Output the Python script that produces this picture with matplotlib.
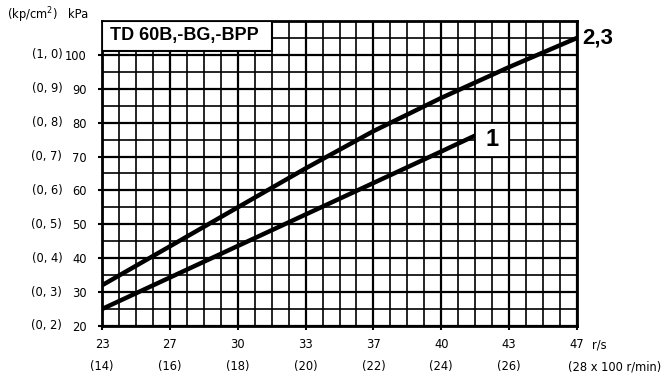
import matplotlib
matplotlib.use("Agg")
import matplotlib.pyplot as plt
from matplotlib.ticker import MultipleLocator
from matplotlib.patches import Rectangle
import matplotlib.transforms as mtransforms

# ---- data ----
rpm_ticks = [14, 16, 18, 20, 22, 24, 26, 28]          # x 100 r/min
rps_labels = ["23", "27", "30", "33", "37", "40", "43", "47"]
rpm_labels = ["(14)", "(16)", "(18)", "(20)", "(22)", "(24)", "(26)", "(28 x 100 r/min)"]
kpa_ticks = [20, 30, 40, 50, 60, 70, 80, 90, 100]
kpcm_labels = ["(0, 2)", "(0, 3)", "(0, 4)", "(0, 5)", "(0, 6)", "(0, 7)", "(0, 8)",
               "(0, 9)", "(1, 0)"]

curve23_x = [14, 16, 18, 20, 22, 24, 26, 28]
curve23_y = [32, 43.5, 55, 66.5, 77.5, 87.3, 96.4, 105]
curve1_x = [14, 16, 18, 20, 22, 24, 25]
curve1_y = [25, 34.3, 43.6, 52.9, 62.2, 71.5, 76.2]

title = "TD 60B,-BG,-BPP"

FS = 8.3
FAM = "DejaVu Sans"

# ---- figure ----
fig = plt.figure(figsize=(6.68, 3.76), dpi=100)
ax = fig.add_axes([0.1527, 0.1330, 0.7111, 0.8112])
ax.set_xlim(14, 28)
ax.set_ylim(20, 110)

ax.xaxis.set_minor_locator(MultipleLocator(0.5))
ax.yaxis.set_minor_locator(MultipleLocator(5))
ax.set_yticks(kpa_ticks)
ax.set_xticks(rpm_ticks)
ax.set_xticklabels([])
ax.set_yticklabels([str(v) for v in kpa_ticks], fontsize=FS, family=FAM)

ax.grid(which="major", color="black", lw=1.6, zorder=1)
ax.grid(which="minor", color="black", lw=1.2, zorder=1)
ax.set_axisbelow(True)
ax.tick_params(which="major", direction="out", length=3, width=1.5, pad=8)
ax.tick_params(which="minor", length=0)
for s in ax.spines.values():
    s.set_linewidth(2)

# curves
ax.plot(curve23_x, curve23_y, color="black", lw=3.2, solid_capstyle="butt",
        solid_joinstyle="round", zorder=4)
ax.plot(curve1_x, curve1_y, color="black", lw=3.2, solid_capstyle="butt",
        solid_joinstyle="round", zorder=4)

# title box
ax.add_patch(Rectangle((14, 101), 5, 9, facecolor="white", edgecolor="black",
                       lw=1.5, zorder=5))
ax.text(14.25, 105.6, title, ha="left", va="center", fontsize=13,
        fontweight="bold", family="Liberation Sans", zorder=6)

# label boxes
ax.add_patch(Rectangle((25, 70), 1, 10, facecolor="white", edgecolor="black",
                       lw=1.3, zorder=5))
ax.text(25.5, 75, "1", ha="center", va="center", fontsize=17,
        fontweight="bold", family="Liberation Sans", zorder=6)
ax.text(28.15, 105, "2,3", ha="left", va="center", fontsize=16,
        fontweight="bold", family="Liberation Sans", clip_on=False)

# secondary y labels (kp/cm2)
ty = mtransforms.blended_transform_factory(ax.transAxes, ax.transData)
for v, lab in zip(kpa_ticks, kpcm_labels):
    ax.text(-0.116, v, lab, ha="center", va="center", fontsize=FS,
            family=FAM, transform=ty)

# x labels
tx = mtransforms.blended_transform_factory(ax.transData, ax.transAxes)
for i, (x, l1, l2) in enumerate(zip(rpm_ticks, rps_labels, rpm_labels)):
    ax.text(x, -0.062, l1, ha="center", va="center", fontsize=FS,
            family=FAM, transform=tx)
    if i < len(rpm_ticks) - 1:
        ax.text(x, -0.134, l2, ha="center", va="center", fontsize=FS,
                family=FAM, transform=tx)
    else:
        ax.text(27.73, -0.134, l2, ha="left", va="center", fontsize=FS,
                family=FAM, transform=tx)
ax.text(28.44, -0.062, "r/s", ha="left", va="center", fontsize=FS,
        family=FAM, transform=tx)

# header
fig.text(7 / 668, 1 - 15 / 376, "(kp/cm$^2$)", ha="left", va="center",
         fontsize=FS, family=FAM)
fig.text(88 / 668, 1 - 15 / 376, "kPa", ha="right", va="center",
         fontsize=FS, family=FAM)

fig.savefig("out.png", dpi=100, facecolor="white")
